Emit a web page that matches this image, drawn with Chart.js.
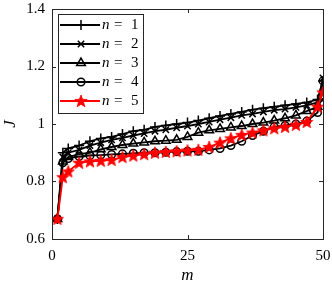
<!DOCTYPE html>
<html lang="en">
<head>
<meta charset="utf-8">
<script src="https://cdn.jsdelivr.net/npm/chart.js"></script>
<style>
  html, body { margin: 0; padding: 0; background: #fff; }
  #wrap { width: 332px; height: 287px; }
</style>
</head>
<body>
<div id="wrap"><canvas id="myChart" width="332" height="287"></canvas></div>
<script>
// m values where the curves are sampled (markers)
const mValues = [1, 2, 3, 5, 7, 9, 11, 13, 15, 17, 19, 21, 23, 25, 27, 29, 31, 33, 35, 37, 39, 41, 43, 45, 47, 49, 50];

const jN1 = [0.67, 0.90, 0.915, 0.925, 0.94, 0.95, 0.955, 0.965, 0.975, 0.98, 0.99, 0.995, 1.0, 1.005, 1.012, 1.02, 1.028, 1.035, 1.042, 1.05, 1.055, 1.06, 1.065, 1.07, 1.075, 1.085, 1.15];
const jN2 = [0.67, 0.885, 0.90, 0.91, 0.925, 0.935, 0.945, 0.952, 0.96, 0.967, 0.975, 0.98, 0.987, 0.993, 1.0, 1.007, 1.015, 1.022, 1.03, 1.035, 1.042, 1.048, 1.052, 1.058, 1.065, 1.075, 1.16];
const jN3 = [0.67, 0.87, 0.885, 0.895, 0.90, 0.912, 0.92, 0.927, 0.932, 0.936, 0.94, 0.942, 0.945, 0.955, 0.97, 0.978, 0.983, 0.988, 0.993, 1.0, 1.005, 1.012, 1.02, 1.03, 1.045, 1.06, 1.09];
const jN4 = [0.67, 0.865, 0.88, 0.887, 0.89, 0.892, 0.894, 0.896, 0.898, 0.90, 0.90, 0.902, 0.904, 0.905, 0.905, 0.91, 0.915, 0.925, 0.94, 0.96, 0.975, 0.99, 0.995, 1.0, 1.01, 1.04, 1.15];
const jN5 = [0.67, 0.815, 0.835, 0.865, 0.87, 0.872, 0.875, 0.885, 0.89, 0.895, 0.90, 0.903, 0.905, 0.908, 0.91, 0.92, 0.935, 0.95, 0.962, 0.97, 0.978, 0.985, 0.99, 0.997, 1.007, 1.06, 1.11];

const seriesNames = ['1', '2', '3', '4', '5'];
const xTicks = [0, 25, 50];
const yTicks = [0.6, 0.8, 1, 1.2, 1.4];

// filled red five-point star used as marker
function makeStar(size, color) {
  const c = document.createElement('canvas');
  c.width = size; c.height = size;
  const g = c.getContext('2d');
  const cx = size / 2, cy = size / 2 + 0.5, R = size / 2 - 0.5, r = R * 0.42;
  g.beginPath();
  for (let i = 0; i < 10; i++) {
    const a = -Math.PI / 2 + i * Math.PI / 5;
    const rad = i % 2 === 0 ? R : r;
    g.lineTo(cx + rad * Math.cos(a), cy + rad * Math.sin(a));
  }
  g.closePath();
  g.fillStyle = color;
  g.fill();
  g.lineWidth = 0.8;
  g.strokeStyle = color;
  g.stroke();
  return c;
}
const starImg = makeStar(14, '#ff0000');

const toPoints = ys => ys.map((y, i) => ({ x: mValues[i], y: y }));

const serif = '"Liberation Serif", "DejaVu Serif", serif';

const mk = (label, ys, color, style, radius, order) => ({
  label: label,
  data: toPoints(ys),
  borderColor: color,
  backgroundColor: 'rgba(0,0,0,0)',
  pointBorderColor: color,
  pointBackgroundColor: 'rgba(0,0,0,0)',
  pointStyle: style,
  pointRadius: radius,
  pointBorderWidth: 1.5,
  borderWidth: 1.8,
  tension: 0,
  order: order
});

const datasets = [
  mk(seriesNames[0], jN1, '#000', 'cross', 5, 5),
  mk(seriesNames[1], jN2, '#000', 'crossRot', 4.5, 4),
  mk(seriesNames[2], jN3, '#000', 'triangle', 5, 3),
  mk(seriesNames[3], jN4, '#000', 'circle', 3.8, 2),
  mk(seriesNames[4], jN5, '#ff0000', starImg, 6, 1)
];

// box around the axes + inward ticks on all four sides
const boxPlugin = {
  id: 'box',
  afterDraw(chart) {
    const { ctx, chartArea: a, scales } = chart;
    ctx.save();
    ctx.strokeStyle = '#262626';
    ctx.lineWidth = 1;
    ctx.strokeRect(a.left + 0.5, a.top + 0.5, a.right - a.left, a.bottom - a.top);
    const t = 4;
    ctx.beginPath();
    scales.x.ticks.forEach(tk => {
      const px = Math.round(scales.x.getPixelForValue(tk.value)) + 0.5;
      ctx.moveTo(px, a.bottom); ctx.lineTo(px, a.bottom - t);
      ctx.moveTo(px, a.top); ctx.lineTo(px, a.top + t);
    });
    scales.y.ticks.forEach(tk => {
      const py = Math.round(scales.y.getPixelForValue(tk.value)) + 0.5;
      ctx.moveTo(a.left, py); ctx.lineTo(a.left + t, py);
      ctx.moveTo(a.right, py); ctx.lineTo(a.right - t, py);
    });
    ctx.stroke();
    ctx.restore();
  }
};

// MATLAB-like legend in the upper-left corner of the axes
const legendPlugin = {
  id: 'inLegend',
  afterDatasetsDraw(chart) {
    const { ctx, chartArea: a } = chart;
    const x0 = a.left + 6, y0 = a.top + 5, w = 85, h = 99, rowH = 19;
    ctx.save();
    ctx.fillStyle = '#fff';
    ctx.fillRect(x0, y0, w, h);
    ctx.strokeStyle = '#262626';
    ctx.lineWidth = 1;
    ctx.strokeRect(x0 + 0.5, y0 + 0.5, w, h);
    chart.data.datasets.forEach((ds, i) => {
      const cy = y0 + 11 + i * rowH;
      ctx.strokeStyle = ds.borderColor;
      ctx.lineWidth = ds.borderWidth;
      ctx.beginPath();
      ctx.moveTo(x0 + 2, cy); ctx.lineTo(x0 + 42, cy);
      ctx.stroke();
      ctx.fillStyle = ds.pointBackgroundColor;
      ctx.lineWidth = ds.pointBorderWidth;
      Chart.helpers.drawPoint(ctx, { pointStyle: ds.pointStyle, radius: ds.pointRadius, rotation: 0, borderWidth: ds.pointBorderWidth }, x0 + 23, cy);
      ctx.fillStyle = '#000';
      ctx.textBaseline = 'middle';
      ctx.font = 'italic 15px ' + serif;
      ctx.fillText('n', x0 + 44, cy);
      ctx.font = '15px ' + serif;
      ctx.fillText('=', x0 + 56, cy);
      ctx.fillText(ds.label, x0 + 73, cy);
    });
    ctx.restore();
  }
};

const config = {
  type: 'line',
  data: { datasets: datasets },
  options: {
    responsive: false,
    animation: false,
    layout: { padding: { top: 9, right: 9, left: 0, bottom: 0 } },
    plugins: { legend: { display: false }, tooltip: { enabled: false } },
    scales: {
      x: {
        type: 'linear',
        min: 0, max: 50,
        afterBuildTicks: s => { s.ticks = xTicks.map(v => ({ value: v })); },
        afterFit: s => { s.height = 48; s.paddingRight = 0; s.paddingLeft = 0; },
        grid: { display: false, drawTicks: false },
        border: { display: false },
        ticks: { color: '#000', padding: 8, maxRotation: 0, font: { family: serif, size: 15 } },
        title: { display: true, text: 'm', color: '#000', padding: { top: 0, bottom: 1 }, font: { family: serif, size: 17, style: 'italic' } }
      },
      y: {
        min: 0.6, max: 1.4,
        afterBuildTicks: s => { s.ticks = yTicks.map(v => ({ value: v })); },
        afterFit: s => { s.width = 52; s.paddingTop = 0; s.paddingBottom = 0; },
        grid: { display: false, drawTicks: false },
        border: { display: false },
        ticks: { color: '#000', padding: 7, font: { family: serif, size: 15 }, callback: v => String(v) },
        title: { display: true, text: 'J', color: '#000', padding: { top: 0, bottom: 4 }, font: { family: serif, size: 17, style: 'italic' } }
      }
    }
  },
  plugins: [legendPlugin, boxPlugin]
};

const myChart = new Chart(document.getElementById('myChart'), config);
</script>
</body>
</html>
